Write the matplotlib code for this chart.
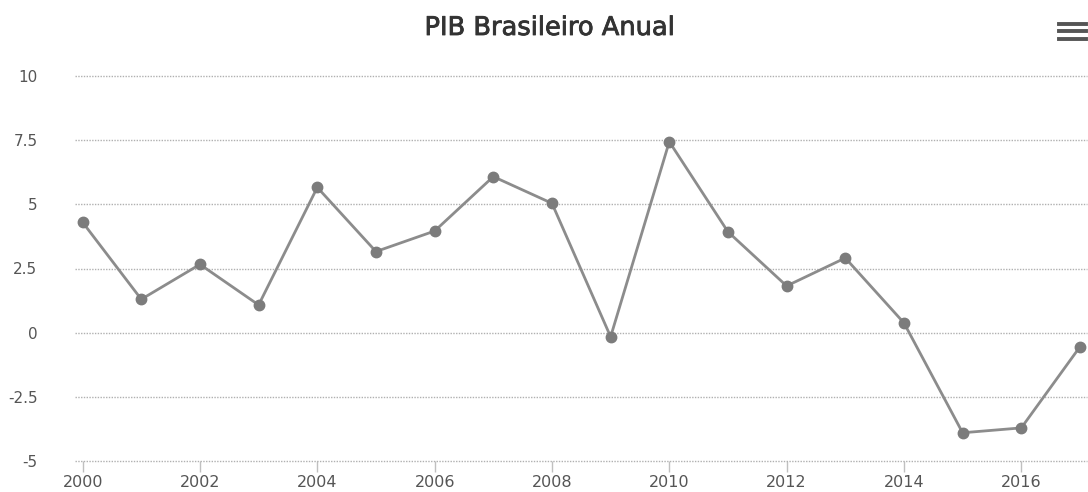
"""
PIB Brasileiro Anual - gráfico de linha no estilo Highcharts (tons de cinza).
"""

import matplotlib
matplotlib.use("Agg")
import matplotlib.pyplot as plt
import matplotlib.patheffects as pe
from matplotlib.lines import Line2D

# Dados (crescimento anual do PIB, %)
anos = [2000, 2001, 2002, 2003, 2004, 2005, 2006, 2007, 2008,
        2009, 2010, 2011, 2012, 2013, 2014, 2015, 2016, 2017]
pib = [4.3, 1.3, 2.66, 1.08, 5.66, 3.16, 3.96, 6.08, 5.04,
       -0.16, 7.44, 3.93, 1.82, 2.91, 0.38, -3.9, -3.71, -0.55]

y_ticks = [-5, -2.5, 0, 2.5, 5, 7.5, 10]
y_labels = ["-5", "-2.5", "0", "2.5", "5", "7.5", "10"]
x_ticks = [2000, 2002, 2004, 2006, 2008, 2010, 2012, 2014, 2016]

plt.rcParams["font.family"] = ["DejaVu Sans"]

fig = plt.figure(figsize=(10.88, 4.92), dpi=100)
W, H = 1088, 492
ax = fig.add_axes([75 / W, 1 - 461 / H, (1087 - 75) / W, (461 - 76) / H])

# Linha com marcadores
ax.plot(anos, pib, color="#8c8c8c", linewidth=2, marker="o",
        markersize=7.5, markerfacecolor="#7c7c7c", markeredgecolor="#7c7c7c",
        zorder=3)

# Eixos
ax.set_ylim(-5, 10)
ax.set_xlim(1999.87, 2017.12)
ax.set_yticks(y_ticks)
ax.set_yticklabels(y_labels)
ax.set_xticks(x_ticks)

for s in ax.spines.values():
    s.set_visible(False)

# Grade pontilhada horizontal
ax.yaxis.grid(True, linestyle=(0, (1, 1)), color="#b0b0b0", linewidth=1)
ax.set_axisbelow(True)
for gl in ax.get_ygridlines():
    gl.set_clip_on(False)

ax.tick_params(axis="y", length=0, pad=27, labelsize=11, labelcolor="#555555")
ax.tick_params(axis="x", length=8, width=1, color="#c0c0c0", pad=2,
               labelsize=11.5, labelcolor="#555555")
for t in ax.xaxis.get_ticklines():
    t.set_linestyle((0, (1, 1)))

# Título (peso intermediário simulado com contorno fino)
fig.text(550 / W, 1 - 28 / H, "PIB Brasileiro Anual", ha="center",
         va="center", fontsize=18.5, color="#333333",
         path_effects=[pe.withStroke(linewidth=0.6, foreground="#333333")])

# Ícone de menu (hambúrguer)
for yy in (24, 31, 39):
    fig.add_artist(Line2D([1059 / W, 1086 / W], [1 - yy / H, 1 - yy / H],
                          color="#555555", linewidth=2.8,
                          transform=fig.transFigure))

fig.savefig("out.png", dpi=100)
plt.close(fig)
